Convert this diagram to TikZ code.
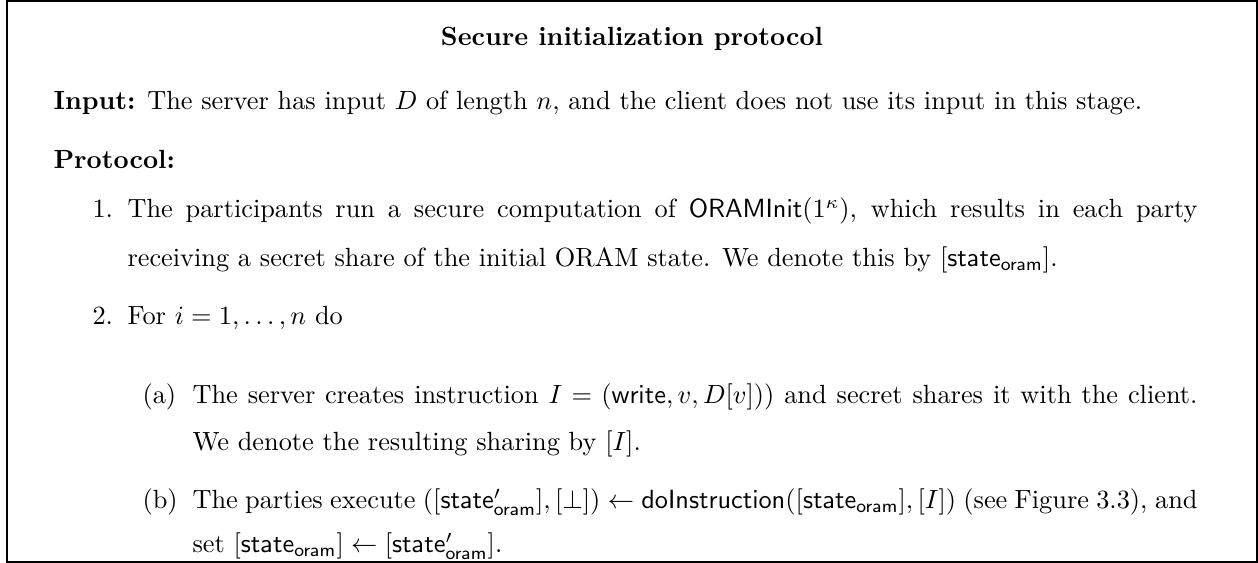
\documentclass[tikz,border=0pt]{standalone}
\newdimen\pxlen
\pxlen=0.38pt
\newcommand{\stateoram}{\mathsf{state}_{\mathsf{oram}}}
\newcommand{\stateoramnew}{\mathsf{state}'_{\mathsf{oram}}}
\begin{document}
\begin{tikzpicture}[x=\pxlen,y=-\pxlen]
    \tikzset{line/.style = {anchor=base west,inner sep=0pt}}
    \tikzset{heading/.style = {anchor=base,inner sep=0pt,font=\bfseries}}
    \useasboundingbox (0,0) rectangle (1258,563);
    \coordinate (tl) at (7,1);
    \coordinate (br) at (1257,562);
    \draw[line width=0.6pt] (tl) rectangle (br);
    \node[heading] (title) at (632,46) {Secure initialization protocol};
    \node[line] (input) at (53,110) {\textbf{Input:} The server has input $D$ of length $n$, and the client does not use its input in this stage.};
    \node[line] (protocol) at (53,169) {\textbf{Protocol:}};
    \node[line] (n1) at (92,218) {1.};
    \node[line] (s1a) at (127,218) {\makebox[1070\pxlen][s]{The participants run a secure computation of $\mathsf{ORAMInit}(1^\kappa)$, which results in each party}};
    \node[line] (s1b) at (127,267) {receiving a secret share of the initial ORAM state. We denote this by $[\stateoram]$.};
    \node[line] (n2) at (92,325) {2.};
    \node[line] (s2) at (127,325) {For $i = 1, \ldots, n$ do};
    \node[line] (na) at (142,404) {(a)};
    \node[line] (sa1) at (192,404) {\makebox[1005\pxlen][s]{The server creates instruction $I = (\mathsf{write}, v, D[v]))$ and secret shares it with the client.}};
    \node[line] (sa2) at (192,451) {We denote the resulting sharing by $[I]$.};
    \node[line] (nb) at (142,509) {(b)};
    \node[line] (sb1) at (192,509) {\makebox[1005\pxlen][s]{The parties execute $([\stateoramnew], [\bot]) \leftarrow \mathsf{doInstruction}([\stateoram], [I])$ (see Figure 3.3), and}};
    \node[line] (sb2) at (192,553) {set $[\stateoram] \leftarrow [\stateoramnew]$.};
\end{tikzpicture}
\end{document}
